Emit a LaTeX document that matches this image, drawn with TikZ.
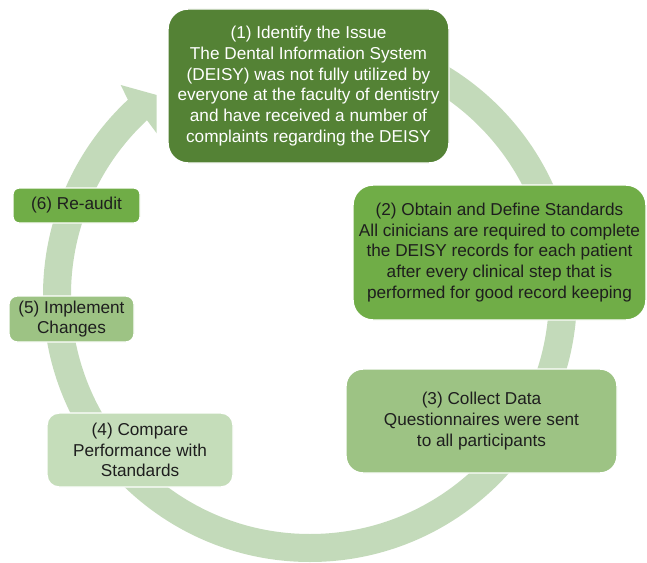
\documentclass[tikz,border=0pt]{standalone}
\usepackage{fontspec}
\setmainfont{Liberation Sans}
\usetikzlibrary{calc}
\definecolor{ringc}{HTML}{C3DABA}
\definecolor{dark}{HTML}{548235}
\definecolor{mid}{HTML}{70AD47}
\definecolor{light}{HTML}{9DC384}
\definecolor{pale}{HTML}{C5DDBA}
\definecolor{txt}{HTML}{1E1E1E}
\begin{document}
\begin{tikzpicture}[x=0.75pt,y=0.75pt,
  box/.style={draw=white, line width=1.1pt, inner sep=0pt, align=center,
    font=\fontsize{12.9}{15.5}\selectfont, text=txt},
  ringfill/.style={fill=ringc, draw=none}]
\useasboundingbox (0,0) rectangle (647,562);
\coordinate (c) at (310,267);
% cycle ring with arrow head
\draw[ringc, line width=21pt] ($(c)+(90:253)$) arc[start angle=90, end angle=-227.3, radius=189.75pt];
\fill[ringfill] (127.9,462.3) -- (120.7,477) -- (156.7,467) -- (156.7,428.7) -- (147,441.8) -- cycle;
% boxes
\node[box, fill=dark, text=white, rounded corners=15pt, minimum width=210.75pt, minimum height=115.5pt] (b1) at (308.5,476)
  {(1) Identify the Issue\\The Dental Information System\\(DEISY) was not fully utilized by\\everyone at the faculty of dentistry\\and have received a number of\\complaints regarding the DEISY};
\node[box, fill=mid, rounded corners=15pt, minimum width=219.75pt, minimum height=101.25pt] (b2) at (499.5,309.5)
  {(2) Obtain and Define Standards\\All cinicians are required to complete\\the DEISY records for each patient\\after every clinical step that is\\performed for good record keeping};
\node[box, fill=light, rounded corners=12.75pt, minimum width=203.25pt, minimum height=78pt] (b3) at (481.5,141)
  {(3) Collect Data\\Questionnaires were sent\\to all participants};
\node[box, fill=pale, rounded corners=9pt, minimum width=139.5pt, minimum height=55.5pt] (b4) at (140,112)
  {(4) Compare\\Performance with\\Standards};
\node[box, fill=light, rounded corners=6pt, minimum width=93.75pt, minimum height=34.5pt] (b5) at (71.5,243)
  {(5) Implement\\Changes};
\node[box, fill=mid, rounded corners=4.5pt, minimum width=95.25pt, minimum height=26.25pt] (b6) at (76.5,356.5)
  {(6) Re-audit};
\end{tikzpicture}
\end{document}
